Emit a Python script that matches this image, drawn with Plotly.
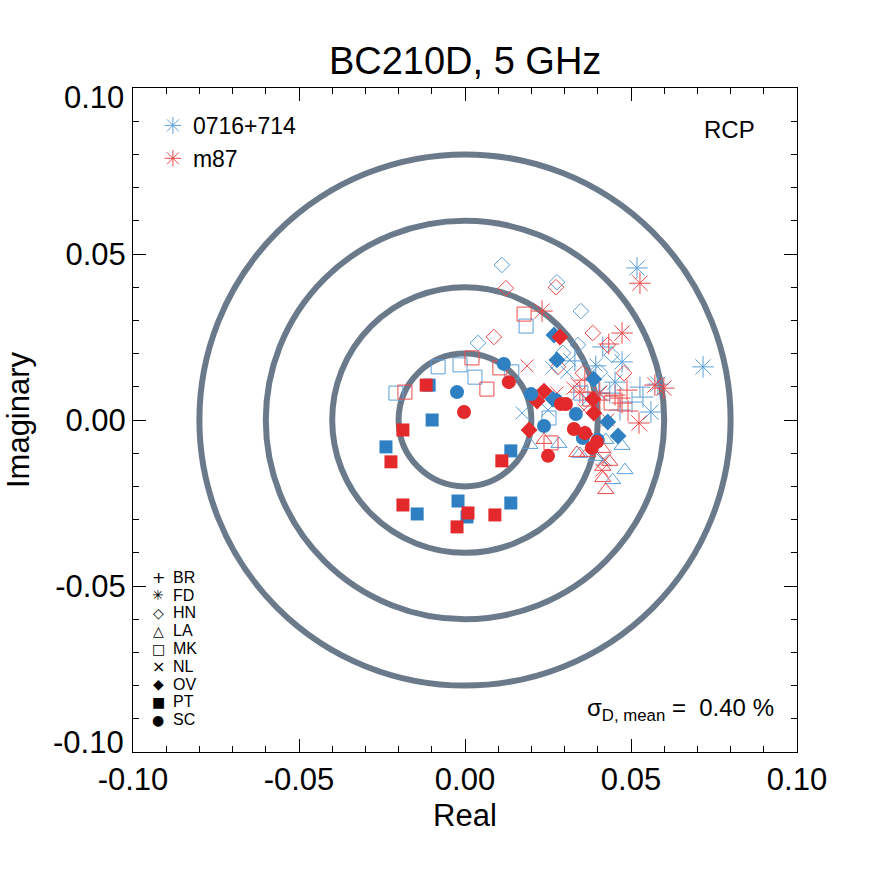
import plotly.graph_objects as go

# ---------------- data (Real, Imaginary) ----------------
stations = ["BR", "FD", "HN", "LA", "MK", "NL", "OV", "PT", "SC"]
station_glyphs = ["+", "\u2733", "\u25c7", "\u25b3", "\u25a1", "\u00d7", "\u25c6", "\u25a0", "\u25cf"]
sources = ["0716+714", "m87"]

BR_blue_x = [0.0415, 0.0394, 0.0331, 0.0527, 0.0536, 0.0503, 0.0467, 0.0436]
BR_blue_y = [0.0220, 0.0163, 0.0178, 0.0099, 0.0069, 0.0054, 0.0030, 0.0081]
BR_red_x = [0.0433, 0.0467, 0.0488, 0.0491, 0.0361, 0.0406, 0.0473, 0.0452]
BR_red_y = [0.0229, 0.0066, 0.0090, 0.0027, 0.0120, 0.0060, 0.0051, 0.0075]

FD_blue_x = [0.0518, 0.0473, 0.0452, 0.0560, 0.0717, 0.0581, 0.0403]
FD_blue_y = [0.0458, 0.0175, 0.0114, 0.0024, 0.0160, 0.0108, 0.0081]
FD_red_x = [0.0527, 0.0232, 0.0473, 0.0346, 0.0572, 0.0599, 0.0524, 0.0406]
FD_red_y = [0.0412, 0.0328, 0.0262, 0.0084, 0.0105, 0.0096, -0.0009, 0.0081]

HN_blue_x = [0.0111, 0.0039, 0.0277, 0.0349, 0.0295, 0.0340, 0.0442, 0.0406]
HN_blue_y = [0.0467, 0.0232, 0.0415, 0.0328, 0.0202, 0.0226, 0.0196, 0.0144]
HN_red_x = [0.0123, 0.0087, 0.0274, 0.0385, 0.0280, 0.0355, 0.0479, 0.0430]
HN_red_y = [0.0397, 0.0250, 0.0400, 0.0262, 0.0160, 0.0141, 0.0141, 0.0226]

LA_blue_x = [0.0283, 0.0346, 0.0473, 0.0482, 0.0445, 0.0196, 0.0394, 0.0424]
LA_blue_y = [-0.0072, -0.0102, -0.0078, -0.0151, -0.0181, -0.0075, -0.0111, -0.0060]
LA_red_x = [0.0238, 0.0337, 0.0370, 0.0415, 0.0415, 0.0415, 0.0424, 0.0436]
LA_red_y = [-0.0060, -0.0099, -0.0099, -0.0087, -0.0141, -0.0175, -0.0211, -0.0126]

MK_blue_x = [-0.0081, -0.0015, 0.0030, -0.0208, 0.0184, 0.0253, 0.0349, 0.0141]
MK_blue_y = [0.0160, 0.0166, 0.0129, 0.0081, 0.0283, 0.0006, 0.0081, 0.0145]
MK_red_x = [-0.0181, 0.0021, 0.0066, 0.0105, 0.0178, 0.0259, 0.0440, 0.0376]
MK_red_y = [0.0084, 0.0187, 0.0093, 0.0157, 0.0319, -0.0069, 0.0051, 0.0063]

NL_blue_x = [0.0172, 0.0307, 0.0415, 0.0316, 0.0250, 0.0367, 0.0262, 0.0394]
NL_blue_y = [0.0021, 0.0144, -0.0120, 0.0181, 0.0030, 0.0060, 0.0157, 0.0166]
NL_red_x = [0.0187, 0.0277, 0.0337, 0.0325, 0.0421, 0.0412, 0.0430, 0.0358]
NL_red_y = [0.0163, 0.0081, 0.0108, 0.0096, -0.0120, -0.0151, 0.0000, 0.0030]

OV_blue_x = [0.0268, 0.0277, 0.0265, 0.0388, 0.0430, 0.0461]
OV_blue_y = [0.0256, 0.0181, 0.0063, 0.0123, -0.0006, -0.0048]
OV_red_x = [0.0286, 0.0238, 0.0217, 0.0193, 0.0385, 0.0388, 0.0361]
OV_red_y = [0.0250, 0.0087, 0.0057, -0.0030, 0.0063, 0.0021, -0.0042]

PT_blue_x = [-0.0108, -0.0099, -0.0238, 0.0138, -0.0021, 0.0138, -0.0144, 0.0006]
PT_blue_y = [0.0105, 0.0000, -0.0081, -0.0093, -0.0244, -0.0250, -0.0283, -0.0292]
PT_red_x = [-0.0117, -0.0187, -0.0223, 0.0111, -0.0187, 0.0009, -0.0024, 0.0090]
PT_red_y = [0.0105, -0.0030, -0.0126, -0.0123, -0.0256, -0.0280, -0.0322, -0.0286]

SC_blue_x = [-0.0024, 0.0117, 0.0199, 0.0238, 0.0274, 0.0334, 0.0355, 0.0400]
SC_blue_y = [0.0084, 0.0169, 0.0078, -0.0018, 0.0060, 0.0018, -0.0054, -0.0060]
SC_red_x = [-0.0003, 0.0132, 0.0250, 0.0289, 0.0304, 0.0328, 0.0361, 0.0382, 0.0397]
SC_red_y = [0.0024, 0.0114, -0.0108, 0.0048, 0.0048, -0.0027, -0.0039, -0.0084, -0.0066]

circle_radii = [0.02, 0.04, 0.06, 0.08]
tick_vals = [-0.10, -0.05, 0.00, 0.05, 0.10]
tick_text = ["-0.10", "-0.05", "0.00", "0.05", "0.10"]
sigma_mean = 0.40

# ---------------- styles ----------------
BLUE = "#2f80c3"
RED = "#e3292b"
BLUE_L = "#5b9fd8"
RED_L = "#ee4a4a"
RING = "#6b7a8b"
FONT = "Liberation Sans, Arial, sans-serif"

sym = {
    "BR": ("cross-thin-open", 15, 1),
    "FD": ("asterisk-open", 18, 1),
    "HN": ("diamond-open", 12, 1),
    "LA": ("triangle-up-open", 14, 1),
    "MK": ("square-open", 14, 1),
    "NL": ("x-thin-open", 13, 1),
    "OV": ("diamond", 13, 0),
    "PT": ("square", 13, 0),
    "SC": ("circle", 14, 0),
}

data = {
    "BR": ((BR_blue_x, BR_blue_y), (BR_red_x, BR_red_y)),
    "FD": ((FD_blue_x, FD_blue_y), (FD_red_x, FD_red_y)),
    "HN": ((HN_blue_x, HN_blue_y), (HN_red_x, HN_red_y)),
    "LA": ((LA_blue_x, LA_blue_y), (LA_red_x, LA_red_y)),
    "MK": ((MK_blue_x, MK_blue_y), (MK_red_x, MK_red_y)),
    "NL": ((NL_blue_x, NL_blue_y), (NL_red_x, NL_red_y)),
    "OV": ((OV_blue_x, OV_blue_y), (OV_red_x, OV_red_y)),
    "PT": ((PT_blue_x, PT_blue_y), (PT_red_x, PT_red_y)),
    "SC": ((SC_blue_x, SC_blue_y), (SC_red_x, SC_red_y)),
}

fig = go.Figure()

for st in stations:
    s, size, is_open = sym[st]
    for (xs, ys), col, lcol in zip(data[st], [BLUE, RED], [BLUE_L, RED_L]):
        if is_open:
            marker = dict(symbol=s, size=size, color=lcol, line=dict(color=lcol, width=1))
        else:
            marker = dict(symbol=s, size=size, color=col, line=dict(width=0))
        fig.add_trace(go.Scatter(x=xs, y=ys, mode="markers", marker=marker,
                                 showlegend=False, hoverinfo="skip"))

# source legend
for name, col in zip(sources, [BLUE_L, RED_L]):
    fig.add_trace(go.Scatter(x=[None], y=[None], mode="markers", name=name,
                             marker=dict(symbol="asterisk-open", size=14, color=col,
                                         line=dict(color=col, width=1))))

for r in circle_radii:
    fig.add_shape(type="circle", xref="x", yref="y", x0=-r, y0=-r, x1=r, y1=r,
                  line=dict(color=RING, width=6), layer="below")

axis_common = dict(
    range=[-0.1, 0.1], tickvals=tick_vals,
    ticks="inside", ticklen=13, tickwidth=1, tickcolor="black",
    showline=True, linecolor="black", linewidth=1, mirror="ticks",
    showgrid=False, zeroline=False,
    tickfont=dict(family=FONT, size=31, color="black"),
    minor=dict(dtick=0.01, ticks="inside", ticklen=6, tickcolor="black", showgrid=False),
)

# y end labels are nudged inside the frame (as in the original), so they are drawn separately
y_ticktext = [" "] + tick_text[1:-1] + [" "]

annotations = [
    dict(text="RCP", xref="paper", yref="paper", x=0.899, y=0.937, xanchor="center",
         yanchor="middle", showarrow=False, font=dict(family=FONT, size=24, color="black")),
    dict(text="σ<sub>D, mean</sub> =\u00a0\u00a0%.2f\u00a0%%" % sigma_mean,
         xref="paper", yref="paper", x=0.969, y=0.064, xanchor="right", yanchor="middle",
         showarrow=False, font=dict(family=FONT, size=24, color="black")),
    dict(text=tick_text[-1], xref="paper", yref="y", x=0, y=tick_vals[-1], xanchor="right",
         yanchor="middle", xshift=-7, yshift=-9, showarrow=False,
         font=dict(family=FONT, size=31, color="black")),
    dict(text=tick_text[0], xref="paper", yref="y", x=0, y=tick_vals[0], xanchor="right",
         yanchor="middle", xshift=-7, yshift=10, showarrow=False,
         font=dict(family=FONT, size=31, color="black")),
]

# station key (bottom-left), laid out in paper units
key_x_sym = 0.038
key_x_txt = 0.057
key_y_top = 0.263
key_step = 0.0268
for i, (st, g) in enumerate(zip(stations, station_glyphs)):
    yy = key_y_top - i * key_step
    gsize = 16 if g in ("+", "\u00d7") else 14
    annotations.append(dict(text=g, xref="paper", yref="paper", x=key_x_sym, y=yy,
                            xanchor="center", yanchor="middle", showarrow=False,
                            font=dict(family="DejaVu Sans", size=gsize, color="black")))
    annotations.append(dict(text=st, xref="paper", yref="paper", x=key_x_txt, y=yy,
                            xanchor="left", yanchor="middle", showarrow=False,
                            font=dict(family=FONT, size=16, color="black")))

fig.update_layout(
    width=886, height=886,
    margin=dict(l=133, r=89, t=88, b=134),
    paper_bgcolor="white", plot_bgcolor="white",
    title=dict(text="BC210D, 5 GHz", x=0.525, xanchor="center", y=0.932, yanchor="middle",
               font=dict(family=FONT, size=38, color="black")),
    xaxis=dict(axis_common, ticktext=tick_text,
               title=dict(text="Real", standoff=8,
                          font=dict(family=FONT, size=31, color="black"))),
    yaxis=dict(axis_common, ticktext=y_ticktext,
               title=dict(text="Imaginary", standoff=16,
                          font=dict(family=FONT, size=31, color="black"))),
    legend=dict(x=0.03, y=0.976, xanchor="left", yanchor="top", bgcolor="rgba(0,0,0,0)",
                font=dict(family=FONT, size=23, color="black"), itemwidth=30,
                tracegroupgap=0),
    annotations=annotations,
)

fig.write_html("out.html")
